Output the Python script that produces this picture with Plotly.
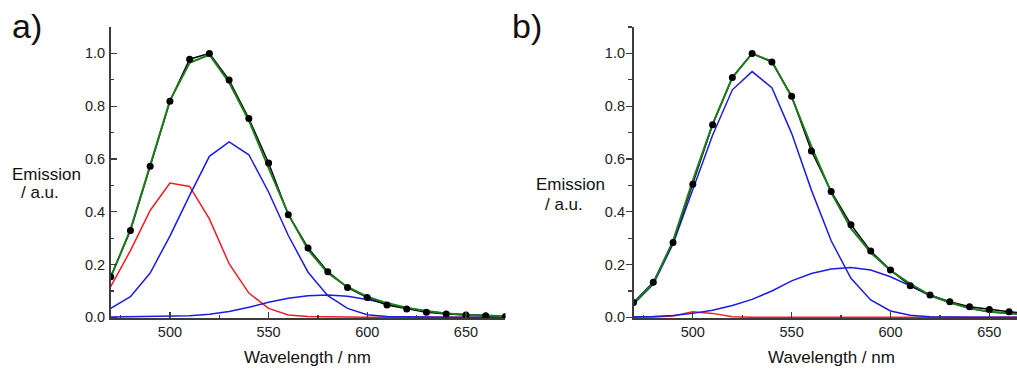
import plotly.graph_objects as go

W, H = 1017, 369

wavelength = [470, 480, 490, 500, 510, 520, 530, 540, 550, 560, 570,
              580, 590, 600, 610, 620, 630, 640, 650, 660, 670]

# Panel a
a_data = [0.154, 0.329, 0.572, 0.819, 0.978, 1.000, 0.899, 0.753, 0.585, 0.389, 0.263,
          0.173, 0.113, 0.075, 0.047, 0.032, 0.019, 0.013, 0.009, 0.006, 0.003]
a_red = [0.116, 0.253, 0.405, 0.509, 0.496, 0.373, 0.203, 0.092, 0.034, 0.009, 0.003,
         0.001, 0.001, 0.000, 0.000, 0.000, 0.000, 0.000, 0.000, 0.000, 0.000]
a_blue1 = [0.034, 0.078, 0.168, 0.308, 0.462, 0.610, 0.665, 0.616, 0.475, 0.310, 0.171,
           0.082, 0.034, 0.010, 0.003, 0.001, 0.001, 0.000, 0.000, 0.000, 0.000]
a_blue2 = [0.001, 0.002, 0.003, 0.004, 0.006, 0.012, 0.022, 0.038, 0.057, 0.072, 0.082,
           0.085, 0.080, 0.068, 0.051, 0.035, 0.023, 0.015, 0.010, 0.006, 0.004]
a_fit = [0.151, 0.333, 0.576, 0.821, 0.964, 0.995, 0.890, 0.746, 0.566, 0.391, 0.256,
         0.168, 0.115, 0.078, 0.054, 0.036, 0.024, 0.015, 0.010, 0.006, 0.004]

# Panel b
b_data = [0.056, 0.133, 0.284, 0.504, 0.730, 0.909, 1.000, 0.967, 0.838, 0.630, 0.477,
          0.351, 0.251, 0.179, 0.120, 0.085, 0.059, 0.040, 0.030, 0.021, 0.015]
b_red = [0.000, 0.001, 0.005, 0.021, 0.015, 0.002, 0.000, 0.000, 0.000, 0.000, 0.000,
         0.000, 0.000, 0.000, 0.000, 0.000, 0.000, 0.000, 0.000, 0.000, 0.000]
b_blue1 = [0.050, 0.125, 0.278, 0.482, 0.690, 0.862, 0.931, 0.870, 0.697, 0.482, 0.290,
           0.148, 0.066, 0.024, 0.008, 0.002, 0.000, 0.000, 0.000, 0.000, 0.000]
b_blue2 = [0.002, 0.003, 0.007, 0.015, 0.027, 0.045, 0.068, 0.100, 0.138, 0.166, 0.183,
           0.189, 0.179, 0.154, 0.119, 0.082, 0.056, 0.034, 0.021, 0.014, 0.009]
b_fit = [0.052, 0.129, 0.290, 0.518, 0.732, 0.909, 0.999, 0.970, 0.835, 0.648, 0.473,
         0.337, 0.245, 0.178, 0.127, 0.084, 0.056, 0.034, 0.021, 0.014, 0.009]

x_ticks = [500, 550, 600, 650]
y_ticks = [0.0, 0.2, 0.4, 0.6, 0.8, 1.0]
y_tick_text = ["0.0", "0.2", "0.4", "0.6", "0.8", "1.0"]

RED = "#ee1c24"
BLUE = "#1c1ce0"
GREEN = "#1e7b1e"
BLACK = "#000000"
AXIS = "#3c3c3c"
FONT = "Liberation Sans, Arial, sans-serif"

fig = go.Figure()


def add_panel(xa, ya, red, blue1, blue2, fit, data):
    common = dict(x=wavelength, xaxis=xa, yaxis=ya, showlegend=False, hoverinfo="skip")
    fig.add_trace(go.Scatter(y=red, mode="lines", line=dict(color=RED, width=1.5), **common))
    fig.add_trace(go.Scatter(y=blue2, mode="lines", line=dict(color=BLUE, width=1.5), **common))
    fig.add_trace(go.Scatter(y=blue1, mode="lines", line=dict(color=BLUE, width=1.5), **common))
    fig.add_trace(go.Scatter(y=data, mode="lines", line=dict(color=BLACK, width=1.5), **common))
    fig.add_trace(go.Scatter(y=fit, mode="lines", line=dict(color=GREEN, width=2), **common))
    fig.add_trace(go.Scatter(y=data, mode="markers",
                             marker=dict(color=BLACK, size=7), **common))


add_panel("x", "y", a_red, a_blue1, a_blue2, a_fit, a_data)
add_panel("x2", "y2", b_red, b_blue1, b_blue2, b_fit, b_data)

y_bottom = 1 - 318.4 / H
y_top = 1 - 27 / H


def xaxis(domain, rng, anchor):
    return dict(domain=domain, range=rng, anchor=anchor, automargin=False,
                tickmode="array", tickvals=x_ticks, ticktext=[str(v) for v in x_ticks],
                ticks="inside", ticklen=6, tickwidth=1.3, tickcolor=AXIS,
                minor=dict(tickmode="array", tickvals=[475, 525, 575, 625],
                           ticks="inside", ticklen=3.5, tickwidth=1.2, tickcolor=AXIS),
                showline=True, linecolor=AXIS, linewidth=1.6,
                showgrid=False, zeroline=False,
                tickfont=dict(family=FONT, size=14.5, color="#222222"))


def yaxis(anchor, ticks, standoff_pad):
    return dict(domain=[y_bottom, y_top], range=[-0.004, 1.1], anchor=anchor, automargin=False,
                tickmode="array", tickvals=y_ticks, ticktext=y_tick_text,
                ticks=ticks, ticklen=6, tickwidth=1.3, tickcolor=AXIS,
                minor=dict(tickmode="array", tickvals=[0.1, 0.3, 0.5, 0.7, 0.9, 1.1],
                           ticks=ticks, ticklen=3.5, tickwidth=1.2, tickcolor=AXIS),
                showline=True, linecolor=AXIS, linewidth=1.6,
                showgrid=False, zeroline=False, ticklabelstandoff=standoff_pad,
                tickfont=dict(family=FONT, size=14.5, color="#222222"))


fig.update_layout(
    width=W, height=H,
    margin=dict(l=0, r=0, t=0, b=0, autoexpand=False),
    paper_bgcolor="white", plot_bgcolor="white",
    xaxis=xaxis([110.7 / W, 505.4 / W], [470, 670], "y"),
    yaxis=yaxis("x", "inside", 1),
    xaxis2=xaxis([633.5 / W, 1.0], [470, 664], "y2"),
    yaxis2=yaxis("x2", "outside", -2),
)

ann = [
    dict(text="a)", x=27 / W, y=1 - 26 / H, size=34),
    dict(text="b)", x=527 / W, y=1 - 26 / H, size=34),
    dict(text="Wavelength / nm", x=307 / W, y=1 - 357 / H, size=17),
    dict(text="Wavelength / nm", x=831 / W, y=1 - 357 / H, size=17),
    dict(text="Emission", x=46 / W, y=1 - 174 / H, size=17),
    dict(text="/ a.u.", x=40 / W, y=1 - 193 / H, size=17),
    dict(text="Emission", x=570 / W, y=1 - 184 / H, size=17),
    dict(text="/ a.u.", x=564 / W, y=1 - 204 / H, size=17),
]
for a in ann:
    fig.add_annotation(text=a["text"], x=a["x"], y=a["y"], xref="paper", yref="paper",
                       xanchor="center", yanchor="middle", showarrow=False,
                       font=dict(family=FONT, size=a["size"], color="#111111"))

fig.write_html("out.html",
               config={"displayModeBar": False, "staticPlot": True},
               post_script="document.body.style.margin='0px';"
                           "document.body.style.overflow='hidden';")
